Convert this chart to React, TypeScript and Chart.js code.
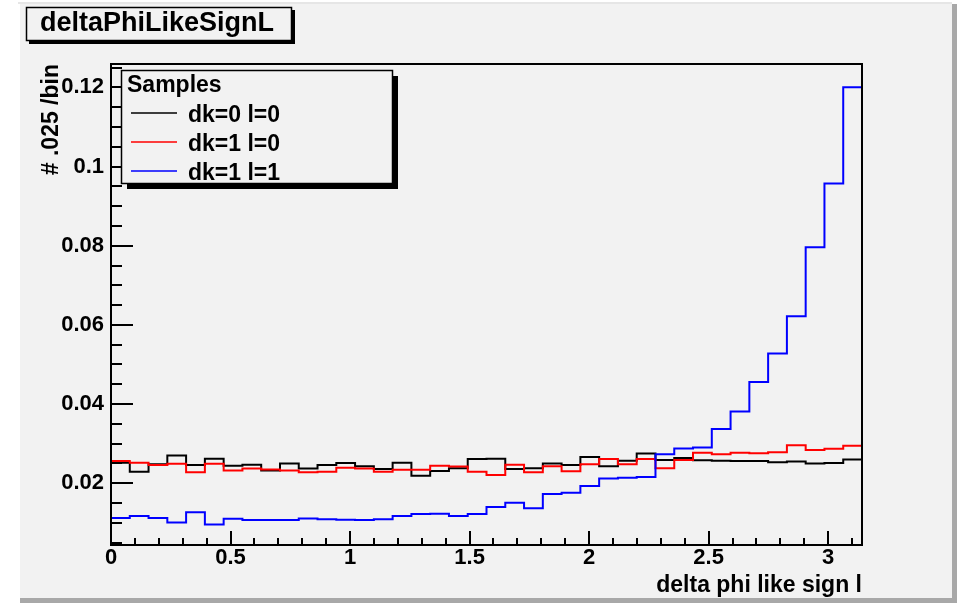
import React, { useEffect, useRef } from "react";
import { Chart, registerables } from "chart.js";

Chart.register(...registerables);

// Histogram binning: 40 bins over [0, pi]
const NBINS = 40;
const X_MIN = 0;
const X_MAX = Math.PI;
const Y_MIN = 0.0044;
const Y_MAX = 0.1259;

const xMajorStep = 0.5;
const xMinorStep = 0.1;
const yMajorStep = 0.02;
const yMinorStep = 0.005;

// Per-bin contents (normalised)
const dk0l0 = [
  0.0252, 0.0229, 0.0248, 0.027, 0.0246, 0.0262, 0.0244, 0.0247, 0.0232, 0.025,
  0.0237, 0.0246, 0.0251, 0.0243, 0.0236, 0.0252, 0.0219, 0.0231, 0.0238, 0.0261,
  0.0262, 0.0236, 0.0238, 0.025, 0.0246, 0.0266, 0.0243, 0.0257, 0.0275, 0.0259,
  0.0264, 0.0258, 0.0257, 0.0256, 0.0256, 0.0253, 0.0255, 0.025, 0.0251, 0.026,
];
const dk1l0 = [
  0.0256, 0.0252, 0.0246, 0.0249, 0.0228, 0.0249, 0.0232, 0.0237, 0.0235, 0.0232,
  0.0228, 0.0229, 0.0239, 0.0237, 0.0229, 0.0234, 0.0234, 0.0244, 0.0242, 0.0229,
  0.0221, 0.0247, 0.0228, 0.0243, 0.023, 0.0248, 0.0261, 0.0248, 0.0261, 0.0238,
  0.0259, 0.0277, 0.0273, 0.0277, 0.0276, 0.0278, 0.0296, 0.0284, 0.0287, 0.0295,
];
const dk1l1 = [
  0.0112, 0.0117, 0.0112, 0.0101, 0.0127, 0.0096, 0.011, 0.0107, 0.0107, 0.0107,
  0.0111, 0.0109, 0.0108, 0.0107, 0.0109, 0.0117, 0.0122, 0.0123, 0.0117, 0.0122,
  0.014, 0.0151, 0.0137, 0.0173, 0.0176, 0.0193, 0.0212, 0.0214, 0.0216, 0.0273,
  0.0288, 0.029, 0.0337, 0.0381, 0.0456, 0.0528, 0.0622, 0.0796, 0.0957, 0.12,
];

const seriesLabels = ["dk=0 l=0", "dk=1 l=0", "dk=1 l=1"];
const seriesColors = ["#000000", "#ff0000", "#0000ff"];
const seriesValues = [dk0l0, dk1l0, dk1l1];

const histTitle = "deltaPhiLikeSignL";
const xTitle = "delta phi like sign l";
const yTitle = "# .025 /bin";
const legendHeader = "Samples";

const FONT = "'Liberation Sans', Arial, Helvetica, sans-serif";
const W = 958;
const H = 604;
const PAD_FILL = "#f2f2f2";

// Outline of a histogram: one point at each bin's low edge, plus the last high edge
function histPoints(values: number[]) {
  const width = (X_MAX - X_MIN) / NBINS;
  const pts = values.map((v, i) => ({ x: X_MIN + i * width, y: v }));
  pts.push({ x: X_MAX, y: values[values.length - 1] });
  return pts;
}

const rootDecor = {
  id: "rootDecor",
  beforeDraw(chart: any) {
    const ctx = chart.ctx as CanvasRenderingContext2D;
    const { left, top, right, bottom } = chart.chartArea;
    ctx.save();
    ctx.fillStyle = "#ffffff";
    ctx.fillRect(0, 0, W, H);
    // pad with bevelled right/bottom edge
    ctx.fillStyle = "#e6e6e6";
    ctx.fillRect(18, 2, 934, 2);
    ctx.fillStyle = PAD_FILL;
    ctx.fillRect(20, 4, 932, 594);
    ctx.fillStyle = "#a8a8a8";
    ctx.fillRect(952, 4, 5, 599);
    ctx.fillRect(20, 598, 937, 5);
    // frame fill
    ctx.fillStyle = PAD_FILL;
    ctx.fillRect(left, top, right - left, bottom - top);
    ctx.restore();
  },
  afterDraw(chart: any) {
    const ctx = chart.ctx as CanvasRenderingContext2D;
    const xs = chart.scales.x;
    const ys = chart.scales.y;
    const { left, top, right, bottom } = chart.chartArea;
    ctx.save();
    ctx.strokeStyle = "#000000";
    ctx.lineWidth = 2;

    // x axis ticks, pointing into the frame
    ctx.beginPath();
    const nx = Math.floor((X_MAX - X_MIN) / xMinorStep + 1e-9);
    for (let k = 0; k <= nx; k++) {
      const v = X_MIN + k * xMinorStep;
      const px = Math.round(xs.getPixelForValue(v));
      const major = k % Math.round(xMajorStep / xMinorStep) === 0;
      const len = major ? 14 : 7;
      ctx.moveTo(px, bottom);
      ctx.lineTo(px, bottom - len);
    }
    // y axis ticks
    const kStart = Math.ceil(Y_MIN / yMinorStep - 1e-9);
    const kEnd = Math.floor(Y_MAX / yMinorStep + 1e-9);
    for (let k = kStart; k <= kEnd; k++) {
      const v = k * yMinorStep;
      const py = Math.round(ys.getPixelForValue(v));
      const major = k % Math.round(yMajorStep / yMinorStep) === 0;
      const len = major ? 22 : 11;
      ctx.moveTo(left, py);
      ctx.lineTo(left + len, py);
    }
    ctx.stroke();

    // frame
    ctx.strokeRect(left, top, right - left, bottom - top);

    // title box
    ctx.fillStyle = "#000000";
    ctx.fillRect(29, 10, 266, 34);
    ctx.fillStyle = PAD_FILL;
    ctx.fillRect(26, 7, 266, 34);
    ctx.lineWidth = 1.5;
    ctx.strokeRect(26.5, 7.5, 265, 33);
    ctx.fillStyle = "#000000";
    ctx.font = `bold 27px ${FONT}`;
    ctx.textAlign = "left";
    ctx.textBaseline = "alphabetic";
    ctx.fillText(histTitle, 40, 31);

    // legend box
    ctx.fillStyle = "#000000";
    ctx.fillRect(127, 76, 271, 113);
    ctx.fillStyle = PAD_FILL;
    ctx.fillRect(121, 70, 272, 114);
    ctx.lineWidth = 1.5;
    ctx.strokeRect(121.5, 70.5, 271, 113);
    ctx.fillStyle = "#000000";
    ctx.font = `bold 23px ${FONT}`;
    ctx.fillText(legendHeader, 127, 92);
    seriesLabels.forEach((label, i) => {
      const yRow = 113 + i * 29;
      ctx.strokeStyle = seriesColors[i];
      ctx.lineWidth = 1.5;
      ctx.beginPath();
      ctx.moveTo(131, yRow);
      ctx.lineTo(177, yRow);
      ctx.stroke();
      ctx.fillStyle = "#000000";
      ctx.fillText(label, 188, yRow + 8.5);
    });
    ctx.restore();
  },
};

export default function App() {
  const canvasRef = useRef<HTMLCanvasElement | null>(null);

  useEffect(() => {
    const canvas = canvasRef.current;
    if (!canvas) return;
    const datasets = seriesValues.map((vals, i) => ({
      label: seriesLabels[i],
      data: histPoints(vals),
      borderColor: seriesColors[i],
      backgroundColor: seriesColors[i],
      borderWidth: 2,
      pointRadius: 0,
      fill: false,
      stepped: "before" as const,
      order: seriesLabels.length - i,
    }));

    const chart = new Chart(canvas, {
      type: "line",
      data: { datasets },
      plugins: [rootDecor],
      options: {
        animation: false,
        responsive: false,
        devicePixelRatio: 1,
        layout: { padding: { left: 0, right: 96, top: 64, bottom: 0 } },
        plugins: {
          legend: { display: false },
          title: { display: false },
          tooltip: { enabled: false },
        },
        scales: {
          x: {
            type: "linear",
            min: X_MIN,
            max: X_MAX,
            grid: { display: false, drawTicks: false },
            border: { display: false },
            ticks: {
              stepSize: xMajorStep,
              includeBounds: false,
              autoSkip: false,
              maxRotation: 0,
              padding: 0,
              color: "#000000",
              font: { family: FONT, size: 22, weight: "bold" },
              callback: (v: any) => String(+Number(v).toFixed(2)),
            },
            title: {
              display: true,
              text: xTitle,
              align: "end",
              color: "#000000",
              font: { family: FONT, size: 23, weight: "bold" },
              padding: { top: 0, bottom: 5 },
            },
            afterFit: (s: any) => {
              s.height = 59;
            },
          },
          y: {
            type: "linear",
            min: Y_MIN,
            max: Y_MAX,
            grid: { display: false, drawTicks: false },
            border: { display: false },
            ticks: {
              stepSize: yMajorStep,
              includeBounds: false,
              autoSkip: false,
              padding: 7,
              color: "#000000",
              font: { family: FONT, size: 22, weight: "bold" },
              callback: (v: any) => String(+Number(v).toFixed(3)),
            },
            title: {
              display: true,
              text: yTitle,
              align: "end",
              color: "#000000",
              font: { family: FONT, size: 23, weight: "bold" },
              padding: { top: 38, bottom: 0 },
            },
            afterFit: (s: any) => {
              s.width = 111;
            },
          },
        },
      },
    } as any);

    return () => chart.destroy();
  }, []);

  return (
    <div style={{ position: "fixed", left: 0, top: 0, width: W, height: H }}>
      <canvas ref={canvasRef} width={W} height={H} style={{ display: "block" }} />
    </div>
  );
}
